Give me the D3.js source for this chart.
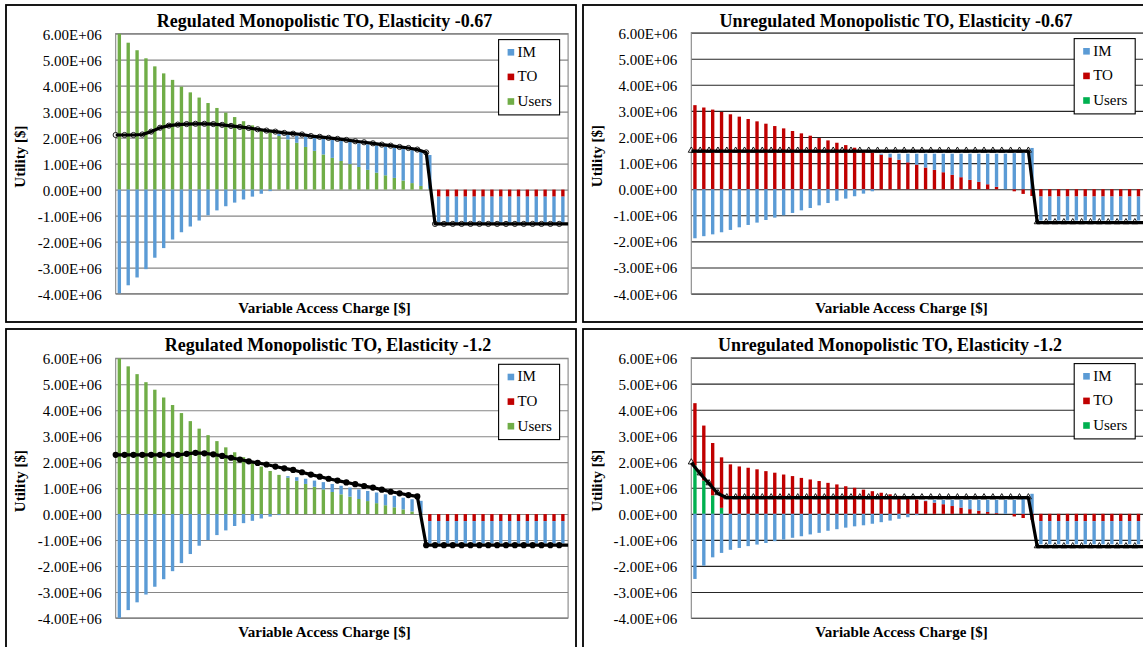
<!DOCTYPE html>
<html><head><meta charset="utf-8">
<script src="https://cdn.jsdelivr.net/npm/d3@7"></script>
<style>
body{margin:0;background:#fff;}
svg{display:block;font-family:"Liberation Serif","Times New Roman",serif;}
</style>
</head><body>
<svg id="chart" width="1143" height="647"></svg>
<script>
// ---------------- DATA (values in millions of $) ----------------
const categories = [1,2,3,4,5,6,7,8,9,10,11,12,13,14,15,16,17,18,19,20,21,22,23,24,25,26,27,28,29,30,31,32,33,34,35,36,37,38,39,40,41,42,43,44,45,46,47,48,49,50,51];
const yTicks = [6,5,4,3,2,1,0,-1,-2,-3,-4];
const yTickLabels = ["6.00E+06","5.00E+06","4.00E+06","3.00E+06","2.00E+06","1.00E+06","0.00E+00","-1.00E+06","-2.00E+06","-3.00E+06","-4.00E+06"];
const seriesNames = ["IM","TO","Users"];

// Regulated, elasticity -0.67
const regUsers067 = [6.00,5.65,5.36,5.05,4.74,4.47,4.22,3.96,3.74,3.54,3.33,3.14,2.96,2.79,2.63,2.47,2.32,2.19,2.06,1.93,1.80,1.64,1.49,1.35,1.22,1.10,0.98,0.87,0.76,0.65,0.55,0.45,0.35,0.25,0.14,0.03,0,0,0,0,0,0,0,0,0,0,0,0,0,0,0];
const regTO067 = [0,0,0,0,0,0,0,0,0,0,0,0,0,0,0,0,0,0,0,0,0,0,0,0,0,0,0,0,0,0,0,0,0,0,0,0,-0.27,-0.27,-0.27,-0.27,-0.27,-0.27,-0.27,-0.27,-0.27,-0.27,-0.27,-0.27,-0.27,-0.27,-0.27];
const regIM067 = [-4.00,-3.68,-3.38,-3.06,-2.62,-2.25,-1.92,-1.64,-1.42,-1.19,-0.99,-0.80,-0.64,-0.50,-0.38,-0.27,-0.16,-0.06,0.09,0.17,0.27,0.40,0.49,0.60,0.69,0.77,0.85,0.91,0.98,1.05,1.10,1.16,1.21,1.27,1.32,1.30,-1.00,-1.00,-1.00,-1.00,-1.00,-1.00,-1.00,-1.00,-1.00,-1.00,-1.00,-1.00,-1.00,-1.00,-1.00];
const regTotal067 = [2.10,2.10,2.10,2.12,2.23,2.38,2.46,2.50,2.52,2.53,2.53,2.52,2.49,2.45,2.41,2.37,2.32,2.27,2.23,2.18,2.15,2.12,2.06,2.03,1.99,1.95,1.91,1.86,1.82,1.78,1.73,1.69,1.64,1.60,1.54,1.43,-1.32,-1.32,-1.32,-1.32,-1.32,-1.32,-1.32,-1.32,-1.32,-1.32,-1.32,-1.32,-1.32,-1.32,-1.32];

// Regulated, elasticity -1.2
const regUsers12 = [6.00,5.69,5.39,5.08,4.79,4.49,4.20,3.89,3.58,3.29,3.04,2.81,2.57,2.38,2.19,1.99,1.83,1.66,1.51,1.40,1.28,1.16,1.05,0.95,0.85,0.76,0.67,0.58,0.50,0.42,0.34,0.26,0.18,0.10,0.03,0,0,0,0,0,0,0,0,0,0,0,0,0,0,0,0];
const regTO12 = [0,0,0,0,0,0,0,0,0,0,0,0,0,0,0,0,0,0,0,0,0,0,0,0,0,0,0,0,0,0,0,0,0,0,0,-0.27,-0.27,-0.27,-0.27,-0.27,-0.27,-0.27,-0.27,-0.27,-0.27,-0.27,-0.27,-0.27,-0.27,-0.27,-0.27];
const regIM12 = [-4.00,-3.70,-3.40,-3.10,-2.80,-2.51,-2.20,-1.89,-1.54,-1.22,-1.00,-0.81,-0.63,-0.46,-0.35,-0.26,-0.17,-0.10,-0.04,0.06,0.14,0.20,0.24,0.28,0.31,0.33,0.35,0.37,0.39,0.41,0.42,0.44,0.45,0.47,0.48,-0.86,-0.86,-0.86,-0.86,-0.86,-0.86,-0.86,-0.86,-0.86,-0.86,-0.86,-0.86,-0.86,-0.86,-0.86,-0.86];
const regTotal12 = [2.28,2.28,2.28,2.28,2.28,2.28,2.28,2.28,2.32,2.36,2.34,2.30,2.24,2.17,2.10,2.03,1.97,1.91,1.83,1.76,1.70,1.61,1.52,1.44,1.36,1.29,1.22,1.15,1.08,1.02,0.94,0.86,0.80,0.73,0.68,-1.20,-1.20,-1.20,-1.20,-1.20,-1.20,-1.20,-1.20,-1.20,-1.20,-1.20,-1.20,-1.20,-1.20,-1.20,-1.20];

// Unregulated, elasticity -0.67
const unregUsers067 = [0,0,0,0,0,0,0,0,0,0,0,0,0,0,0,0,0,0,0,0,0,0,0,0,0,0,0,0,0,0,0,0,0,0,0,0,0,0,0,0,0,0,0,0,0,0,0,0,0,0,0];
const unregTO067 = [3.22,3.13,3.05,2.96,2.87,2.78,2.69,2.60,2.51,2.42,2.33,2.23,2.14,2.05,1.96,1.87,1.78,1.69,1.59,1.50,1.41,1.32,1.22,1.13,1.03,0.94,0.83,0.74,0.65,0.55,0.46,0.36,0.28,0.19,0.09,0.00,-0.08,-0.18,-0.26,-0.28,-0.28,-0.28,-0.28,-0.28,-0.28,-0.28,-0.28,-0.28,-0.28,-0.28,-0.28];
const unregIM067 = [-1.88,-1.80,-1.73,-1.65,-1.56,-1.46,-1.37,-1.28,-1.18,-1.09,-1.00,-0.91,-0.81,-0.72,-0.62,-0.53,-0.44,-0.36,-0.27,-0.17,-0.08,0.04,0.14,0.23,0.33,0.42,0.53,0.62,0.71,0.81,0.90,1.00,1.08,1.17,1.27,1.36,1.38,1.41,1.58,-0.92,-0.92,-0.92,-0.92,-0.92,-0.92,-0.92,-0.92,-0.92,-0.92,-0.92,-0.92];
const unregTotal067 = [1.46,1.46,1.46,1.46,1.46,1.46,1.46,1.46,1.46,1.46,1.46,1.46,1.46,1.46,1.46,1.46,1.46,1.46,1.46,1.46,1.46,1.46,1.46,1.46,1.46,1.46,1.46,1.46,1.46,1.46,1.46,1.46,1.46,1.46,1.46,1.46,1.46,1.46,1.46,-1.28,-1.28,-1.28,-1.28,-1.28,-1.28,-1.28,-1.28,-1.28,-1.28,-1.28,-1.28];

// Unregulated, elasticity -1.2
const unregUsers12 = [1.86,1.28,0.71,0.23,0,0,0,0,0,0,0,0,0,0,0,0,0,0,0,0,0,0,0,0,0,0,0,0,0,0,0,0,0,0,0,0,0,0,0,0,0,0,0,0,0,0,0,0,0,0,0];
const unregTO12 = [2.39,2.11,2.01,1.94,1.90,1.82,1.77,1.71,1.64,1.58,1.51,1.45,1.38,1.32,1.26,1.19,1.13,1.06,1.00,0.93,0.87,0.81,0.75,0.69,0.62,0.55,0.49,0.43,0.37,0.30,0.24,0.18,0.12,0.07,0.03,0.00,-0.10,-0.16,-0.23,-0.28,-0.28,-0.28,-0.28,-0.28,-0.28,-0.28,-0.28,-0.28,-0.28,-0.28,-0.28];
const unregIM12 = [-2.50,-1.99,-1.67,-1.50,-1.38,-1.31,-1.24,-1.18,-1.12,-1.05,-0.99,-0.92,-0.86,-0.79,-0.73,-0.65,-0.59,-0.53,-0.48,-0.44,-0.38,-0.32,-0.26,-0.19,-0.13,-0.05,0.02,0.11,0.17,0.24,0.30,0.36,0.42,0.47,0.51,0.54,0.54,0.58,0.77,-0.89,-0.89,-0.89,-0.89,-0.89,-0.89,-0.89,-0.89,-0.89,-0.89,-0.89,-0.89];
const unregTotal12 = [1.96,1.54,1.16,0.78,0.62,0.62,0.62,0.62,0.62,0.62,0.62,0.62,0.62,0.62,0.62,0.62,0.62,0.62,0.62,0.62,0.62,0.62,0.62,0.62,0.62,0.62,0.62,0.62,0.62,0.62,0.62,0.62,0.62,0.62,0.62,0.62,0.62,0.62,0.62,-1.26,-1.26,-1.26,-1.26,-1.26,-1.26,-1.26,-1.26,-1.26,-1.26,-1.26,-1.26];

// ---------------- LAYOUT / STYLE ----------------
const colIM = "#5b9bd5", colTO = "#c00000";
const panels = [
  {title:"Regulated Monopolistic TO, Elasticity -0.67", users:regUsers067, to:regTO067, im:regIM067, total:regTotal067,
   marker:"openCircle", usersColor:"#70ad47", grid:"#868686",
   fx:6, fy:5, fw:570, fh:317, px:115.7, py:33.6, pw:452.4, ph:260, titleX:324.5},
  {title:"Regulated Monopolistic TO, Elasticity -1.2", users:regUsers12, to:regTO12, im:regIM12, total:regTotal12,
   marker:"dot", usersColor:"#70ad47", grid:"#868686",
   fx:6, fy:329, fw:570, fh:330, px:115.7, py:358.3, pw:452.4, ph:259.6, titleX:328},
  {title:"Unregulated Monopolistic TO, Elasticity -0.67", users:unregUsers067, to:unregTO067, im:unregIM067, total:unregTotal067,
   marker:"triangle", usersColor:"#00b050", grid:"#262626",
   fx:583, fy:5, fw:600, fh:317, px:691.3, py:32.6, pw:452.4, ph:261, titleX:896},
  {title:"Unregulated Monopolistic TO, Elasticity -1.2", users:unregUsers12, to:unregTO12, im:unregIM12, total:unregTotal12,
   marker:"triangle", usersColor:"#00b050", grid:"#262626",
   fx:583, fy:329, fw:600, fh:330, px:691.3, py:357.6, pw:452.4, ph:260.4, titleX:890}
];

const svg = d3.select("#chart");

panels.forEach((p, pi) => {
  const g = svg.append("g");
  const x = d3.scaleBand().domain(categories).range([p.px, p.px + p.pw]).paddingInner(0).paddingOuter(0);
  const y = d3.scaleLinear().domain([-4, 6]).range([p.py + p.ph, p.py]);
  const bw = x.bandwidth();
  const barW = bw * 0.38;

  // gridlines
  g.append("g")
    .attr("transform", `translate(${p.px},0)`)
    .call(d3.axisLeft(y).tickValues(yTicks).tickSize(-p.pw).tickFormat(""))
    .call(s => s.select(".domain").remove())
    .call(s => s.selectAll("line").attr("stroke", p.grid).attr("stroke-width", 1.1));

  // tick labels
  g.append("g")
    .attr("transform", `translate(${p.px - 14},0)`)
    .call(d3.axisLeft(y).tickValues(yTicks).tickSize(0).tickPadding(0).tickFormat((d, i) => yTickLabels[i]))
    .call(s => s.select(".domain").remove())
    .call(s => s.selectAll("text").attr("font-size", "15px").attr("fill", "#000")
      .attr("font-family", '"Liberation Serif","Times New Roman",serif').attr("dy", "0.36em"));

  // plot border
  g.append("rect").attr("x", p.px).attr("y", p.py).attr("width", p.pw).attr("height", p.ph)
    .attr("fill", "none").attr("stroke", "#868686").attr("stroke-width", 1.1);

  // stacked bars (series order Users, TO, IM; diverging)
  const rows = categories.map((c, i) => ({cat: c, users: p.users[i], to: p.to[i], im: p.im[i]}));
  const stack = d3.stack().keys(["users", "to", "im"]).offset(d3.stackOffsetDiverging)(rows);
  const colors = {users: p.usersColor, to: colTO, im: colIM};
  const clipId = "clip" + pi;
  svg.append("clipPath").attr("id", clipId).append("rect")
    .attr("x", p.px).attr("y", p.py).attr("width", p.pw).attr("height", p.ph);
  const bars = g.append("g").attr("clip-path", `url(#${clipId})`);
  stack.forEach(layer => {
    bars.append("g").attr("fill", colors[layer.key])
      .selectAll("rect").data(layer.filter(d => Math.abs(d[1] - d[0]) > 1e-9)).join("rect")
      .attr("x", d => x(d.data.cat) + bw * 0.41 - barW / 2)
      .attr("width", barW)
      .attr("y", d => y(Math.max(d[0], d[1])))
      .attr("height", d => Math.abs(y(d[0]) - y(d[1])));
  });

  // total line
  const pts = categories.map((c, i) => [x(c), y(p.total[i])]);
  const last = categories[categories.length - 1];
  const linePts = pts.concat([[x(last) + bw, y(p.total[p.total.length - 1])]]);
  const mg = g.append("g");
  if (p.marker === "openCircle") {
    mg.selectAll("circle").data(pts).join("circle")
      .attr("cx", d => d[0]).attr("cy", d => d[1]).attr("r", 2.6)
      .attr("fill", "#fff").attr("stroke", "#222").attr("stroke-width", 1);
  } else if (p.marker === "triangle") {
    mg.selectAll("path").data(pts).join("path")
      .attr("transform", d => `translate(${d[0]},${d[1] - 0.6})`)
      .attr("d", d3.symbol().type(d3.symbolTriangle).size(16))
      .attr("fill", "#fff").attr("stroke", "#000").attr("stroke-width", 0.9);
  }
  g.append("path").datum(linePts)
    .attr("d", d3.line())
    .attr("fill", "none").attr("stroke", "#000").attr("stroke-width", 3.2).attr("stroke-linejoin", "round");
  if (p.marker === "dot") {
    g.append("g").selectAll("circle").data(pts).join("circle")
      .attr("cx", d => d[0]).attr("cy", d => d[1]).attr("r", 3.1).attr("fill", "#000");
  }

  // title
  g.append("text").attr("x", p.titleX).attr("y", p.fy + 22.3).attr("text-anchor", "middle")
    .attr("font-size", "18px").attr("font-weight", "bold").text(p.title);
  // x title
  g.append("text").attr("x", p.fx + 318.5).attr("y", p.fy + 308).attr("text-anchor", "middle")
    .attr("font-size", "15px").attr("font-weight", "bold").text("Variable Access Charge [$]");
  // y title
  const yc = p.py + p.ph / 2 - 7;
  g.append("text").attr("transform", `translate(${p.fx + 19},${yc}) rotate(-90)`).attr("text-anchor", "middle")
    .attr("font-size", "15px").attr("font-weight", "bold").text("Utility [$]");

  // legend
  const lw = 61, lh = 75.3;
  const lx = p.px + p.pw - 8.5 - lw, ly = p.py + 6;
  const lg = g.append("g");
  lg.append("rect").attr("x", lx).attr("y", ly).attr("width", lw).attr("height", lh)
    .attr("fill", "#fff").attr("stroke", "#000").attr("stroke-width", 1.1);
  const legColors = [colIM, colTO, p.usersColor];
  seriesNames.forEach((nm, i) => {
    const by = ly + 17 + i * 24.6;
    lg.append("rect").attr("x", lx + 9).attr("y", by - 7.6).attr("width", 6.6).attr("height", 6.6).attr("fill", legColors[i]);
    lg.append("text").attr("x", lx + 19).attr("y", by).attr("font-size", "15px").text(nm);
  });

  // chart frame
  g.append("rect").attr("x", p.fx).attr("y", p.fy).attr("width", p.fw).attr("height", p.fh)
    .attr("fill", "none").attr("stroke", "#000").attr("stroke-width", 1.8);
});
</script>
</body></html>
